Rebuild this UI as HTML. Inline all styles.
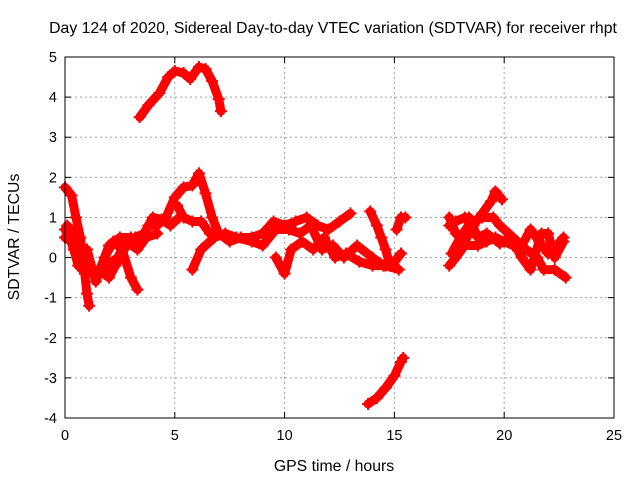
<!DOCTYPE html>
<html><head><meta charset="utf-8"><style>
html,body{margin:0;padding:0;background:#fff;}
svg{display:block;font-family:"Liberation Sans",sans-serif;}
</style></head><body>
<svg id="chart" width="640" height="480">
<text x="333" y="33" text-anchor="middle" font-size="15.8">Day 124 of 2020, Sidereal Day-to-day VTEC variation (SDTVAR) for receiver rhpt</text>
<text x="334" y="471" text-anchor="middle" font-size="15.8">GPS time / hours</text>
<text transform="translate(19,237) rotate(-90)" text-anchor="middle" font-size="15.8">SDTVAR / TECUs</text>
<g id="grid"></g><g id="ticks"></g><g id="marks"></g>
<rect x="65" y="57" width="549" height="361" fill="none" stroke="#000" stroke-width="1"/>
</svg>
<script>
const xTicks=[0,5,10,15,20,25];
const yTicks=[-4,-3,-2,-1,0,1,2,3,4,5];
const trackTop=[[3.4,3.5],[3.8,3.8],[4.3,4.1],[4.7,4.5],[5.0,4.65],[5.4,4.6],[5.7,4.45],[6.1,4.75],[6.4,4.7],[6.7,4.4],[7.0,3.95],[7.1,3.65]];
const trackBottom=[[13.8,-3.65],[14.2,-3.5],[14.6,-3.25],[15.0,-2.95],[15.3,-2.6],[15.4,-2.5]];
const trackA=[[0,1.75],[0.3,1.55],[0.5,1.0],[0.7,0.5],[0.9,-0.4],[1.0,-0.9],[1.1,-1.2]];
const trackB=[[0,0.7],[0.2,0.5],[0.4,0.2],[0.6,-0.2],[1.0,-0.4],[1.5,-0.3],[2.0,-0.5],[2.3,-0.2],[2.8,0.3],[3.2,0.5],[3.6,0.6],[4.0,1.0],[4.4,0.95],[4.8,0.8],[5.2,1.0]];
const trackC=[[0,0.5],[0.3,0.4],[0.6,0.1],[1.0,0.2],[1.4,-0.6],[1.8,0.0],[2.2,0.4],[2.6,0.2],[3.0,-0.5],[3.3,-0.8]];
const trackC2=[[0.1,0.8],[0.4,0.6],[0.7,0.0],[1.0,-0.3],[1.4,-0.4],[1.9,-0.2],[2.4,0.0],[2.8,0.4],[3.3,0.2],[3.7,0.5],[4.2,0.6]];
const trackD=[[1.6,-0.3],[2.0,0.3],[2.5,0.5],[3.0,0.5],[3.4,0.3],[3.8,0.8],[4.2,0.8],[4.6,1.0],[5.0,1.5],[5.4,1.75],[5.8,1.8],[6.1,2.1],[6.4,1.6],[6.7,1.0],[7.0,0.6],[7.5,0.4],[8.0,0.5],[8.5,0.5],[9.0,0.6],[9.5,0.9],[10.0,0.8],[10.5,0.9],[11.0,1.0],[11.5,0.8],[12.0,0.7],[12.5,0.9],[13.0,1.1]];
const trackE=[[5.1,1.3],[5.4,1.0],[5.8,0.9],[6.2,0.9],[6.6,0.6]];
const trackF=[[5.8,-0.3],[6.2,0.2],[6.8,0.5],[7.3,0.6],[7.8,0.5],[8.5,0.4],[9.0,0.3],[9.6,0.7],[10.2,0.7],[10.7,0.6],[11.2,0.8],[11.7,0.2],[12.2,0.3],[12.7,0.0],[13.3,0.3],[14.0,0.0],[14.5,-0.2],[15.0,-0.1],[15.3,0.1]];
const trackG=[[9.6,0.0],[10.0,-0.4],[10.3,0.2],[10.8,0.4],[11.3,0.2],[11.8,0.5],[12.3,0.0],[12.8,0.1],[13.4,-0.1],[14.0,-0.2],[14.6,-0.2],[15.2,-0.3]];
const trackH=[[13.9,1.15],[14.2,0.8],[14.4,0.5],[14.6,0.2],[14.8,-0.2]];
const trackI=[[15.1,0.7],[15.3,1.0],[15.5,1.0]];
const trackR1=[[17.5,1.0],[17.8,0.6],[18.2,0.4],[18.6,0.8],[19.0,1.1],[19.4,1.4],[19.6,1.65],[19.9,1.45]];
const trackR2=[[17.6,0.1],[18.0,0.5],[18.5,0.9],[19.0,1.0],[19.5,1.0],[19.8,0.8],[20.2,0.6],[20.6,0.4],[21.0,0.2],[21.5,0.0],[21.8,-0.3],[22.3,-0.3],[22.8,-0.5]];
const trackR3=[[17.5,-0.2],[17.8,0.0],[18.2,0.3],[18.8,0.3],[19.2,0.4],[19.6,0.5],[20.0,0.4],[20.4,0.3],[20.8,0.3],[21.2,0.7],[21.6,0.4],[22.0,0.1],[22.4,0.3],[22.7,0.5]];
const trackR4=[[17.5,0.8],[17.8,0.9],[18.2,1.0],[18.4,1.0],[18.8,0.5],[19.2,0.6],[19.8,0.35],[20.3,0.5],[20.8,0.0],[21.2,-0.3],[21.7,0.6],[22.0,0.6],[22.3,0.0],[22.7,0.4]];
const tracks=[trackTop,trackBottom,trackA,trackB,trackC,trackC2,trackD,trackE,trackF,trackG,trackH,trackI,trackR1,trackR2,trackR3,trackR4];

const X0=65,X1=614,Y0=418,Y1=57,XMIN=0,XMAX=25,YMIN=-4,YMAX=5;
const sx=v=>X0+(v-XMIN)/(XMAX-XMIN)*(X1-X0);
const sy=v=>Y0-(v-YMIN)/(YMAX-YMIN)*(Y0-Y1);
const NS="http://www.w3.org/2000/svg";
function mk(tag,attrs,parent){const e=document.createElementNS(NS,tag);for(const k in attrs)e.setAttribute(k,attrs[k]);parent.appendChild(e);return e;}
const grid=document.getElementById('grid'),ticks=document.getElementById('ticks'),marks=document.getElementById('marks');
xTicks.forEach(t=>{const x=sx(t);
 if(t>XMIN&&t<XMAX){const g=mk('line',{x1:x,x2:x,y1:Y1,y2:Y0,stroke:'#a0a0a0','stroke-dasharray':'2,3'},grid);
 
 }
 const l=mk('text',{x:x,y:Y0+22,'text-anchor':'middle','font-size':14.5},ticks);l.textContent=t;
 
 
 mk('line',{x1:x,x2:x,y1:Y0,y2:Y0-6,stroke:'#000'},ticks);mk('line',{x1:x,x2:x,y1:Y1,y2:Y1+6,stroke:'#000'},ticks);});
yTicks.forEach(t=>{const y=sy(t);
 if(t>YMIN&&t<YMAX){const g=mk('line',{x1:X0,x2:X1,y1:y,y2:y,stroke:'#a0a0a0','stroke-dasharray':'2,3'},grid);
 
 }
 const l=mk('text',{x:X0-8,y:y+5,'text-anchor':'end','font-size':14.5},ticks);l.textContent=t;
 
 
 mk('line',{x1:X0,x2:X0+6,y1:y,y2:y,stroke:'#000'},ticks);mk('line',{x1:X1,x2:X1-6,y1:y,y2:y,stroke:'#000'},ticks);});
tracks.forEach((tr,i)=>{
 const p=mk('polyline',{points:tr.map(d=>sx(d[0])+','+sy(d[1])).join(' '),fill:'none',stroke:'#ff0000','stroke-width':9,'stroke-linejoin':'round','stroke-linecap':'round'},marks);
 
 
 tr.forEach(d=>{const x=sx(d[0]),y=sy(d[1]);
  const m=mk('path',{d:`M${x-6},${y}H${x+6}M${x},${y-6}V${y+6}`,stroke:'#ff0000','stroke-width':2},marks);
  
  });
});
</script>
</body></html>
